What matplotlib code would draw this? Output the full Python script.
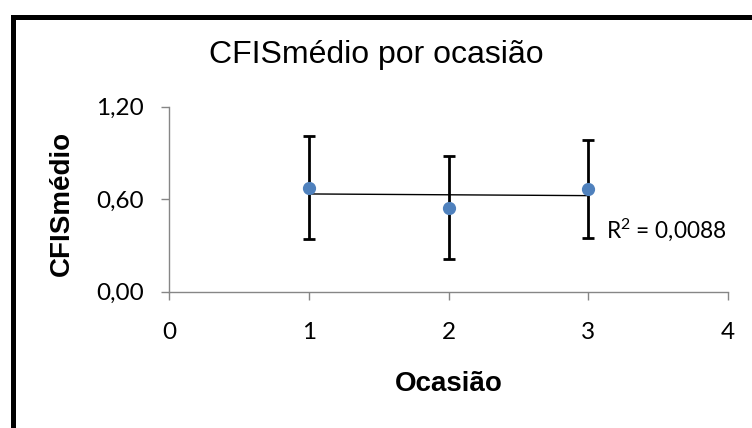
import numpy as np
import matplotlib.pyplot as plt
from matplotlib.lines import Line2D

plt.rcParams['mathtext.fontset'] = 'custom'
plt.rcParams['mathtext.rm'] = 'Lato'
plt.rcParams['mathtext.it'] = 'Lato'

# data
ocasiao = [1, 2, 3]
cfis_medio = [0.675, 0.545, 0.664]
erro = [0.336, 0.332, 0.318]
r2_label = "R$^{2}$ = 0,0088"
x_ticks = [0, 1, 2, 3, 4]
y_ticks = [0.0, 0.6, 1.2]
y_ticklabels = ["0,00", "0,60", "1,20"]

W, H = 752, 428
fig = plt.figure(figsize=(W/100, H/100), dpi=100)
ax = fig.add_axes([169/W, 1-291.5/H, 559/W, 184.8/H])

grey = "#868686"
ax.errorbar(ocasiao, cfis_medio, yerr=erro, fmt='none', ecolor='black',
            elinewidth=2.0, capsize=4.5, capthick=2.0, zorder=2)

# linear trendline (Excel style)
coef = np.polyfit(ocasiao, cfis_medio, 1)
xs = np.array([ocasiao[0], ocasiao[-1]])
ax.plot(xs, np.polyval(coef, xs), color='black', lw=1.0, zorder=3)

ax.plot(ocasiao, cfis_medio, 'o', color='#4F81BD', markersize=8.5, zorder=4)

ax.text(3.13, 0.40, r2_label, fontsize=16.3, family='Lato', va='center', ha='left')

ax.set_xlim(0, 4)
ax.set_ylim(0, 1.2)
ax.set_xticks(x_ticks)
ax.set_yticks(y_ticks)
ax.set_yticklabels(y_ticklabels)
for s in ['top', 'right']:
    ax.spines[s].set_visible(False)
for s in ['left', 'bottom']:
    ax.spines[s].set_color(grey)
    ax.spines[s].set_linewidth(1.0)
ax.tick_params(axis='both', colors=grey, length=6, width=1.0, labelcolor='black')
ax.tick_params(axis='y', pad=12)
ax.tick_params(axis='x', pad=16)
for lab in ax.get_xticklabels() + ax.get_yticklabels():
    lab.set_fontfamily('Lato')
    lab.set_fontsize(17.5)

ax.set_xlabel("Ocasião", fontsize=20, fontweight='bold', family='Liberation Sans', labelpad=20)
fig.text(62/W, 1-203/H, "CFISmédio", rotation=90, fontsize=20, fontweight='bold',
         family='Liberation Sans', ha='center', va='center')
fig.text(376/W, 1-55/H, "CFISmédio por ocasião", fontsize=23, family='Liberation Sans',
         ha='center', va='center')

# chart border (cropped at right and bottom)
fig.add_artist(Line2D([12.5/W, 12.5/W], [1-16.5/H, -0.1], color='black', lw=3.6,
                      transform=fig.transFigure, solid_capstyle='projecting'))
fig.add_artist(Line2D([12.5/W, 1.1], [1-16.5/H, 1-16.5/H], color='black', lw=3.6,
                      transform=fig.transFigure, solid_capstyle='projecting'))

fig.savefig("out.png", dpi=100)
